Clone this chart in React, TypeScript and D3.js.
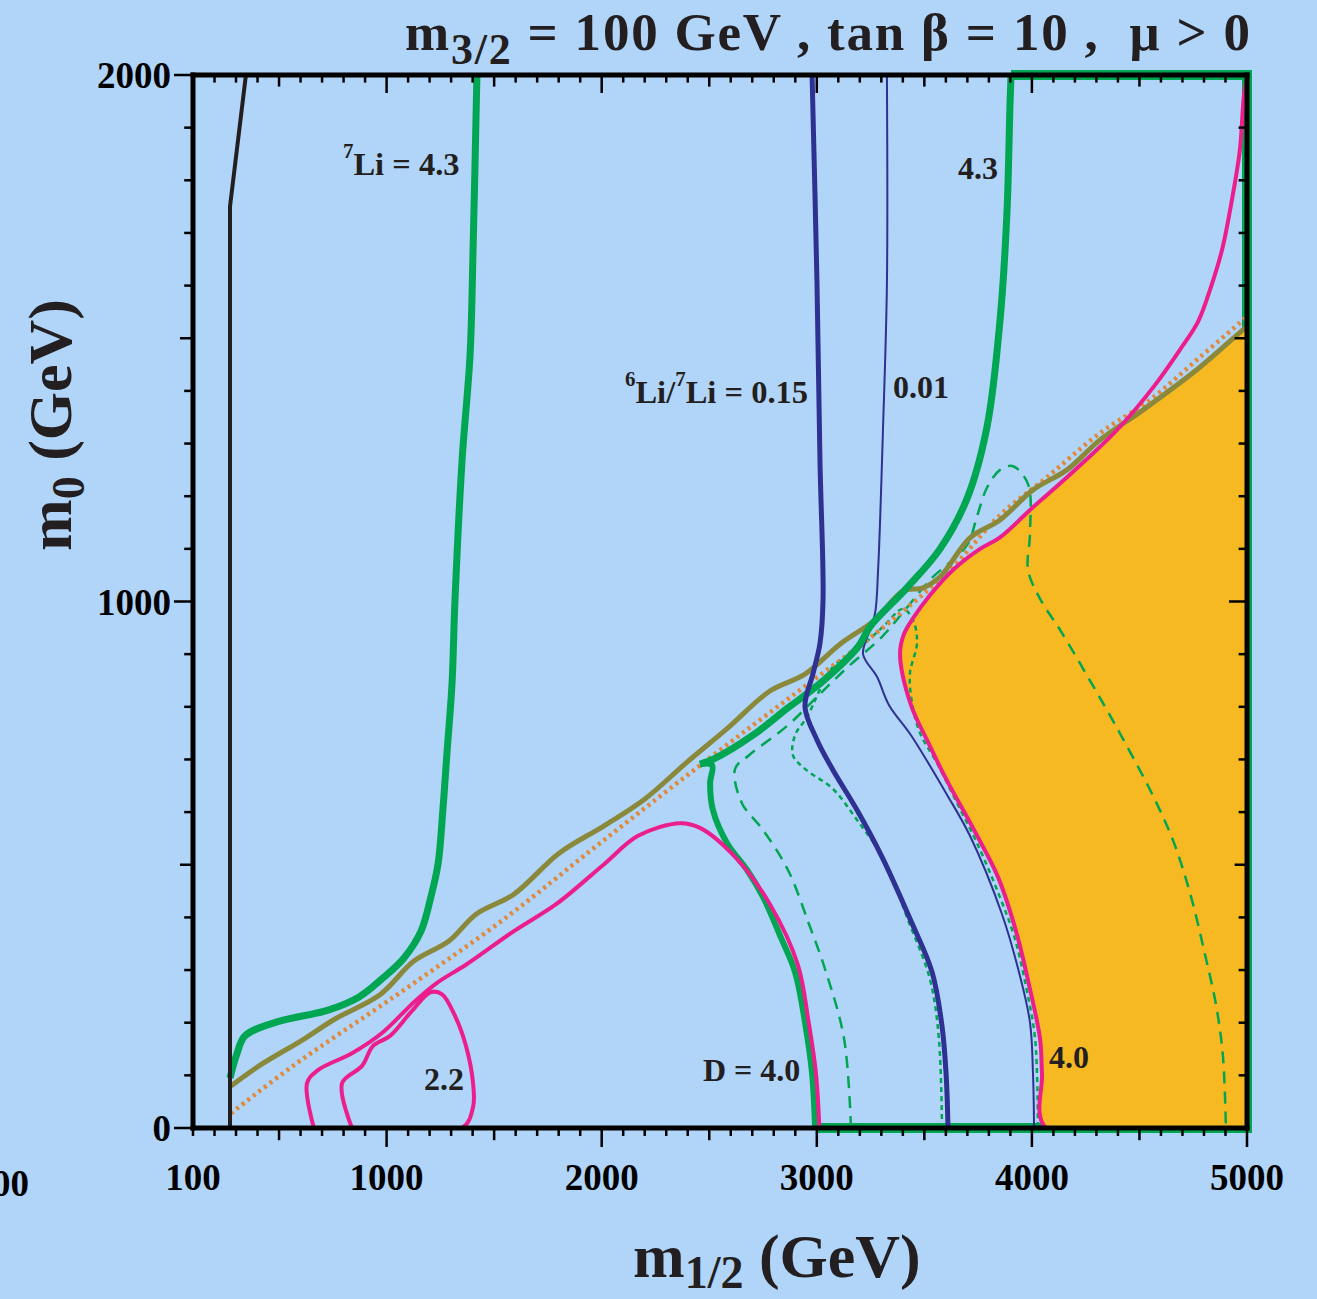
import React from 'react';
import * as d3 from 'd3';

type Pt = [number, number];

// ---- axes ----
const X_DOMAIN: [number, number] = [100, 5000];
const Y_DOMAIN: [number, number] = [0, 2000];
const X_TICK_LABELS = [100, 1000, 2000, 3000, 4000, 5000];
const Y_TICK_LABELS = [0, 1000, 2000];

// ---- contours (m1/2, m0) in GeV ----
const blackContour: Pt[] = [[272, 0], [272, 1750], [346, 2000]];

const greenLi7Left: Pt[] = [
  [272, 95], [305, 142], [342, 175], [486, 201], [728, 224], [872, 249], [983, 285],
  [1081, 323], [1160, 374], [1206, 439], [1239, 501], [1262, 606], [1281, 714],
  [1304, 843], [1318, 1003], [1351, 1269], [1388, 1468], [1402, 1668], [1420, 2000],
];

const greenLi7RightUpper: Pt[] = [
  [3903, 2000], [3898, 1941], [3884, 1738], [3852, 1535], [3791, 1331], [3698, 1195],
  [3573, 1100], [3419, 1026], [3247, 952], [3192, 914], [3029, 849], [2866, 798],
  [2703, 746], [2522, 701], [2457, 691],
];

const greenLi7RightLower: Pt[] = [
  [2457, 691], [2513, 689], [2504, 655], [2517, 604], [2583, 541], [2676, 490],
  [2750, 439], [2834, 361], [2899, 296], [2945, 201], [2978, 104], [2992, 0],
];

const oliveBoundary: Pt[] = [
  [277, 80], [407, 118], [616, 169], [760, 207], [969, 253], [1127, 317], [1290, 355],
  [1416, 406], [1592, 444], [1802, 522], [2011, 574], [2201, 625], [2397, 695],
  [2587, 760], [2782, 830], [2945, 862], [3108, 919], [3271, 965], [3401, 1020],
  [3494, 1026], [3573, 1047], [3712, 1121], [3852, 1155], [4005, 1212], [4163, 1250],
  [4317, 1307], [4517, 1364], [4781, 1445], [4981, 1516], [5000, 1522],
];

const orangeDotted: Pt[] = [
  [277, 28], [565, 118], [1048, 253], [1527, 391], [2011, 547], [2490, 699], [2922, 832],
  [3294, 946], [3619, 1060], [3852, 1164], [4070, 1236], [4317, 1320], [4549, 1383],
  [4781, 1464], [4991, 1538],
];

const pinkLeftLoop: Pt[] = [
  [662, 0], [630, 85], [681, 110], [839, 142], [983, 182], [1127, 239], [1239, 277],
  [1369, 310], [1592, 374], [1788, 425], [2011, 501], [2169, 555], [2364, 579],
  [2457, 570], [2620, 515], [2782, 425], [2912, 310], [2962, 201], [2996, 104], [3012, 0],
];

const pinkSmallLoop: Pt[] = [
  [839, 0], [793, 85], [886, 118], [937, 156], [1016, 175], [1113, 220], [1206, 258],
  [1258, 254], [1318, 213], [1369, 156], [1402, 85], [1402, 40], [1351, 0], [839, 0],
];

const pinkRight: Pt[] = [
  [5000, 1995], [4986, 1962], [4967, 1858], [4930, 1763], [4884, 1668], [4828, 1592],
  [4772, 1531], [4688, 1478], [4572, 1411], [4396, 1326], [4163, 1236], [4005, 1179],
  [3852, 1122], [3759, 1100], [3633, 1060], [3526, 1012], [3452, 971], [3405, 938],
  [3387, 900], [3438, 803], [3517, 733], [3601, 663], [3731, 566], [3842, 477],
  [3926, 374], [3991, 264], [4038, 169], [4047, 104], [4066, 0], [5000, 0], [5000, 1995],
];

const blueThick: Pt[] = [
  [2978, 2000], [3001, 1603], [3015, 1263], [3029, 1003], [3015, 921], [2983, 864],
  [2945, 800], [3001, 737], [3075, 680], [3187, 604], [3303, 515], [3438, 393],
  [3536, 296], [3582, 194], [3601, 104], [3610, 0],
];

const blueThin: Pt[] = [
  [3326, 2000], [3326, 1603], [3308, 1331], [3285, 1060], [3271, 978], [3247, 946],
  [3215, 900], [3280, 857], [3336, 803], [3438, 746], [3601, 636], [3712, 555],
  [3861, 406], [3940, 296], [3991, 201], [4005, 104], [4010, 0],
];

const greenDashed: Pt[] = [
  [3159, 0], [3127, 169], [3043, 296], [2964, 387], [2866, 490], [2750, 566], [2652, 617],
  [2620, 682], [2685, 708], [2866, 765], [2996, 817], [3140, 874], [3303, 933],
  [3410, 984], [3526, 1041], [3698, 1107], [3745, 1162], [3791, 1216], [3852, 1250],
  [3912, 1257], [3982, 1223], [3991, 1128], [3982, 1060], [4038, 1005], [4131, 946],
  [4298, 830], [4414, 746], [4563, 631], [4661, 541], [4740, 439], [4805, 329],
  [4856, 234], [4888, 137], [4902, 0],
];

const greenDotted: Pt[] = [
  [3582, 0], [3568, 167], [3527, 281], [3424, 395], [3313, 509], [3187, 585], [3075, 644],
  [2945, 682], [2889, 708], [2899, 746], [2955, 781], [3075, 876], [3187, 908],
  [3308, 952], [3401, 986], [3447, 965], [3466, 921], [3433, 864], [3443, 807],
  [3480, 750], [3559, 693], [3652, 617], [3745, 541], [3850, 440], [3920, 361],
  [3975, 264], [4015, 169], [4028, 0],
];

const greenEdge: Pt[] = [[3903, 2000], [5000, 2000], [5000, 0], [3000, 0]];

const FONT = "'Liberation Serif', 'Times New Roman', Times, serif";
const C = {
  bg: '#b1d4f9',
  green: '#00a651',
  olive: '#8a893b',
  orangeDot: '#e0893b',
  pink: '#ec1e8c',
  blue: '#2e3192',
  black: '#231f20',
  fill: '#f6b922',
};

export default function App() {
  const W = 1317;
  const H = 1299;
  const x = d3.scaleLinear().domain(X_DOMAIN).range([193, 1247]);
  const y = d3.scaleLinear().domain(Y_DOMAIN).range([1128, 75]);
  const smooth = d3
    .line<Pt>()
    .x((d) => x(d[0]))
    .y((d) => y(d[1]))
    .curve(d3.curveCatmullRom.alpha(0.5));
  const straight = d3
    .line<Pt>()
    .x((d) => x(d[0]))
    .y((d) => y(d[1]));

  // filled (orange) region: below the pink contour and the olive boundary
  const crossIdx = pinkRight.findIndex((p) => p[0] === 4396 && p[1] === 1326);
  const pinkLower = pinkRight.slice(crossIdx, pinkRight.length - 2);
  const fillOutline: Pt[] = [
    [5000, 0],
    ...pinkLower.slice().reverse(),
    ...oliveBoundary.filter((p) => p[0] > 4400),
  ];
  const fillPath = smooth(fillOutline) + 'Z';

  const x0 = x(X_DOMAIN[0]);
  const x1 = x(X_DOMAIN[1]);
  const yTop = y(Y_DOMAIN[1]);
  const yBot = y(Y_DOMAIN[0]);

  const xTicks = d3.range(100, 5001, 100);
  const yTicks = d3.range(0, 2001, 100);
  const xLen = (v: number) => (v % 1000 === 0 ? 1 : v % 500 === 0 ? 0.6 : 0.35);
  const yLen = (v: number) => (v % 1000 === 0 ? 1 : v % 500 === 0 ? 0.65 : 0.4);

  const lbl = { fontFamily: FONT, fontWeight: 'bold' as const, fill: '#231f20' };

  return (
    <svg
      width={W}
      height={H}
      style={{ position: 'absolute', left: 0, top: 0, background: C.bg, display: 'block' }}
    >
      <defs>
        <clipPath id="plotClip">
          <rect x={x0} y={yTop} width={x1 - x0} height={yBot - yTop} />
        </clipPath>
      </defs>
      <rect x={0} y={0} width={W} height={H} fill={C.bg} />

      {/* green boundary around the edge */}
      <path d={straight(greenEdge) || ''} fill="none" stroke={C.green} strokeWidth={10} />

      <g clipPath="url(#plotClip)">
        <path d={fillPath} fill={C.fill} stroke="none" />
        <path d={smooth(greenDashed) || ''} fill="none" stroke={C.green} strokeWidth={2.5} strokeDasharray="12,8" />
        <path d={smooth(greenDotted) || ''} fill="none" stroke={C.green} strokeWidth={2.5} strokeDasharray="5,4" />
        <path d={smooth(orangeDotted) || ''} fill="none" stroke={C.orangeDot} strokeWidth={4.5} strokeDasharray="3,4" />
        <path d={smooth(oliveBoundary) || ''} fill="none" stroke={C.olive} strokeWidth={5} strokeLinejoin="round" />
        <path d={smooth(blueThin) || ''} fill="none" stroke={C.blue} strokeWidth={2} />
        <path d={smooth(greenLi7Left) || ''} fill="none" stroke={C.green} strokeWidth={7} />
        <path d={smooth(greenLi7RightUpper) || ''} fill="none" stroke={C.green} strokeWidth={7} />
        <path d={smooth(greenLi7RightLower) || ''} fill="none" stroke={C.green} strokeWidth={6} />
        <path d={smooth(pinkLeftLoop) || ''} fill="none" stroke={C.pink} strokeWidth={4} strokeLinejoin="round" />
        <path d={smooth(pinkSmallLoop) || ''} fill="none" stroke={C.pink} strokeWidth={4} strokeLinejoin="round" />
        <path d={smooth(pinkRight) || ''} fill="none" stroke={C.pink} strokeWidth={4} strokeLinejoin="round" />
        <path d={smooth(blueThick) || ''} fill="none" stroke={C.blue} strokeWidth={5} />
        <path d={straight(blackContour) || ''} fill="none" stroke={C.black} strokeWidth={4} />
      </g>

      {/* axes frame */}
      <g stroke="#000" strokeLinecap="square">
        <line x1={x0} x2={x1} y1={yBot} y2={yBot} strokeWidth={5} />
        <line x1={x0} x2={x1} y1={yTop} y2={yTop} strokeWidth={5} />
        <line x1={x0} x2={x0} y1={yTop} y2={yBot} strokeWidth={5} />
        <line x1={x1} x2={x1} y1={yTop} y2={yBot} strokeWidth={5} />
      </g>
      <g stroke="#000" strokeWidth={2.5}>
        {xTicks.map((v) => (
          <g key={'xt' + v}>
            <line x1={x(v)} x2={x(v)} y1={yBot + 2} y2={yBot + 2 + 17 * xLen(v)} />
            <line x1={x(v)} x2={x(v)} y1={yTop + 2} y2={yTop + 2 + 16 * xLen(v)} />
          </g>
        ))}
        {yTicks.map((v) => (
          <g key={'yt' + v}>
            <line x1={x0 - 2} x2={x0 - 2 - 17 * yLen(v)} y1={y(v)} y2={y(v)} />
            <line x1={x1 - 2} x2={x1 - 2 - 16 * yLen(v)} y1={y(v)} y2={y(v)} />
          </g>
        ))}
      </g>

      {/* tick labels */}
      {X_TICK_LABELS.map((v) => (
        <text key={'xl' + v} x={x(v)} y={yBot + 62} textAnchor="middle" fontSize={37} {...lbl} fill="#000">
          {v}
        </text>
      ))}
      {Y_TICK_LABELS.map((v) => (
        <text key={'yl' + v} x={x0 - 22} y={y(v) + 13} textAnchor="end" fontSize={37} {...lbl} fill="#000">
          {v}
        </text>
      ))}
      <text x={29} y={1196} textAnchor="end" fontSize={37} {...lbl} fill="#000">5000</text>

      {/* title */}
      <text x={405} y={50} fontSize={53} {...lbl} textLength={845} lengthAdjust="spacing" style={{ whiteSpace: 'pre' }}>
        m<tspan dy={14} fontSize={44}>3/2</tspan>
        <tspan dy={-14}>{' = 100 GeV , tan \u03b2 = 10 ,  \u03bc > 0'}</tspan>
      </text>

      {/* axis titles */}
      <text x={633} y={1277} fontSize={62} {...lbl} style={{ whiteSpace: 'pre' }}>
        m<tspan dy={11} fontSize={46}>1/2</tspan>
        <tspan dy={-11}>{' (GeV)'}</tspan>
      </text>
      <text transform="translate(71,551) rotate(-90)" fontSize={62} {...lbl} style={{ whiteSpace: 'pre' }}>
        m<tspan dy={13} fontSize={46}>0</tspan>
        <tspan dy={-13}>{' (GeV)'}</tspan>
      </text>

      {/* contour labels */}
      <text x={x(797)} y={y(1810)} fontSize={32.5} {...lbl}>
        <tspan fontSize={21} dy={-17}>7</tspan>
        <tspan dy={17}>Li = 4.3</tspan>
      </text>
      <text x={x(2108)} y={y(1377)} fontSize={32.5} {...lbl}>
        <tspan fontSize={21} dy={-17}>6</tspan>
        <tspan dy={17}>Li/</tspan>
        <tspan fontSize={21} dy={-17}>7</tspan>
        <tspan dy={17}>Li = 0.15</tspan>
      </text>
      <text x={x(3354)} y={y(1386)} fontSize={32} {...lbl}>0.01</text>
      <text x={x(3656)} y={y(1802)} fontSize={32} {...lbl}>4.3</text>
      <text x={x(1174)} y={y(72)} fontSize={32} {...lbl}>2.2</text>
      <text x={x(2471)} y={y(89)} fontSize={32} {...lbl}>D = 4.0</text>
      <text x={x(4080)} y={y(114)} fontSize={32} {...lbl}>4.0</text>
    </svg>
  );
}
